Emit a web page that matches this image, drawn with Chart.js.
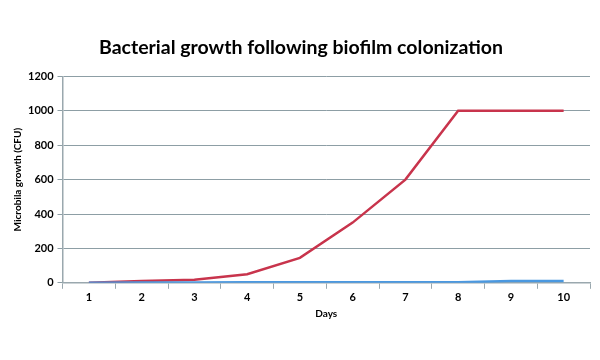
<!DOCTYPE html>
<html>
<head>
<meta charset="utf-8">
<script src="https://cdn.jsdelivr.net/npm/chart.js@4"></script>
<style>
  html, body { margin: 0; padding: 0; background: #fff; }
  #wrap { width: 600px; height: 360px; }
</style>
</head>
<body>
<div id="wrap"><canvas id="myChart"></canvas></div>
<script>
const days = ["1", "2", "3", "4", "5", "6", "7", "8", "9", "10"];
const redSeries = [0, 10, 18, 50, 145, 350, 600, 1000, 1000, 1000];
const blueSeries = [1, 2, 2, 3, 3, 3, 3, 3, 10, 10];
const yTicks = [0, 200, 400, 600, 800, 1000, 1200];

const ctx = document.getElementById("myChart");

const axisGray = "#9aa8ae";

new Chart(ctx, {
  type: "line",
  data: {
    labels: days,
    datasets: [
      {
        label: "Blue",
        data: blueSeries,
        borderColor: "#4a98e0",
        borderWidth: 2.5,
        pointRadius: 0,
        tension: 0,
      },
      {
        label: "Red",
        data: redSeries,
        borderColor: "#c8344c",
        borderWidth: 2.5,
        pointRadius: 0,
        tension: 0,
      },
    ],
  },
  options: {
    responsive: true,
    maintainAspectRatio: false,
    animation: false,
    layout: { padding: { top: 36, right: 10, left: 12, bottom: 36 } },
    plugins: {
      legend: { display: false },
      tooltip: { enabled: false },
      title: {
        display: true,
        text: "Bacterial growth following biofilm colonization",
        color: "#000",
        font: { family: "Lato", size: 19.5, weight: "bold" },
        padding: { top: 0, bottom: 17 },
      },
    },
    scales: {
      x: {
        offset: true,
        grid: {
          offset: true,
          drawOnChartArea: false,
          drawTicks: true,
          tickLength: 6,
          color: axisGray,
        },
        border: { color: axisGray, width: 1.5 },
        ticks: {
          color: "#000",
          font: { family: "Lato", size: 11, weight: "bold" },
          padding: 2,
        },
        title: {
          display: true,
          text: "Days",
          color: "#000",
          font: { family: "Lato", size: 10, weight: "bold" },
          padding: { top: 2 },
        },
      },
      y: {
        min: 0,
        max: 1200,
        afterBuildTicks: (axis) => {
          axis.ticks = yTicks.map((v) => ({ value: v }));
        },
        grid: {
          color: "#8d9ea5",
          lineWidth: 1,
          tickLength: 5,
        },
        border: { color: axisGray, width: 1.5 },
        ticks: {
          color: "#000",
          font: { family: "Lato", size: 11, weight: "bold" },
          padding: 4,
          callback: (v) => String(v),
        },
        title: {
          display: true,
          text: "Microbila growth (CFU)",
          color: "#000",
          font: { family: "Lato", size: 10, weight: "bold" },
          padding: { top: 0, bottom: 0 },
        },
      },
    },
  },
});
</script>
</body>
</html>
